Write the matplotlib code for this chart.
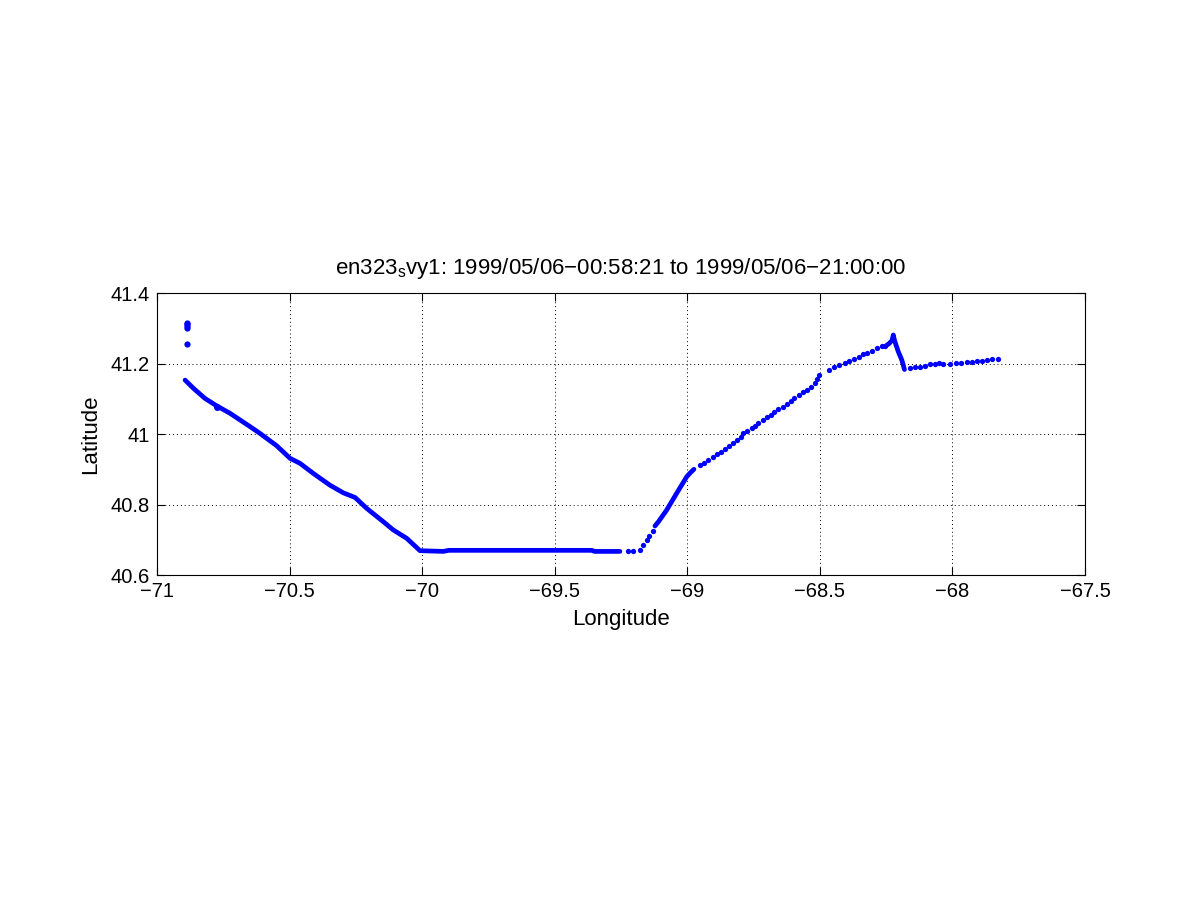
import matplotlib
matplotlib.use("Agg")
import matplotlib.pyplot as plt

plt.rcParams['font.family'] = ['Liberation Sans', 'DejaVu Sans']
plt.rcParams['mathtext.fontset'] = 'custom'
plt.rcParams['mathtext.rm'] = 'Liberation Sans'
plt.rcParams['mathtext.it'] = 'Liberation Sans:italic'

# isolated fixes at the start of the file
outlier_lon = [-70.888, -70.888, -70.888, -70.888, -70.888]
outlier_lat = [41.316, 41.311, 41.306, 41.302, 41.254]

# densely sampled legs (fixes merge into a solid line)
west_lon = [-70.894, -70.863, -70.819, -70.775, -70.725, -70.649, -70.612, -70.549,
            -70.498, -70.461, -70.410, -70.348, -70.297, -70.253, -70.209, -70.146,
            -70.109, -70.058, -70.008, -69.920, -69.900, -69.360, -69.350, -69.254]
west_lat = [41.153, 41.130, 41.101, 41.080, 41.059, 41.021, 41.002, 40.967,
            40.931, 40.917, 40.888, 40.855, 40.833, 40.820, 40.789, 40.751,
            40.728, 40.704, 40.669, 40.667, 40.670, 40.670, 40.667, 40.667]

rise_lon = [-69.122, -69.109, -69.078, -69.040, -69.002, -68.990, -68.975]
rise_lat = [40.739, 40.751, 40.784, 40.832, 40.879, 40.889, 40.900]

peak_lon = [-68.248, -68.240, -68.228, -68.223, -68.220, -68.217, -68.204, -68.191, -68.181]
peak_lat = [41.252, 41.256, 41.265, 41.281, 41.270, 41.262, 41.233, 41.210, 41.183]

# sparsely sampled fixes
fix_lon = [-69.222, -69.204, -69.179, -69.166, -69.153, -69.143, -69.131,
           -68.952, -68.936, -68.921, -68.904, -68.889, -68.874, -68.858, -68.842,
           -68.826, -68.811, -68.798, -68.789, -68.774, -68.757, -68.745, -68.732,
           -68.716, -68.701, -68.686, -68.672, -68.657, -68.640, -68.625, -68.610,
           -68.596, -68.580, -68.565, -68.550, -68.534, -68.518, -68.510, -68.502,
           -68.464, -68.445, -68.426, -68.407, -68.389, -68.371, -68.353, -68.336,
           -68.323, -68.304, -68.286, -68.267, -68.255,
           -68.160, -68.141, -68.122, -68.103, -68.085, -68.066, -68.049, -68.034,
           -68.009, -67.988, -67.969, -67.946, -67.927, -67.908, -67.890, -67.871,
           -67.849, -67.829]
fix_lat = [40.669, 40.669, 40.671, 40.685, 40.699, 40.711, 40.726,
           40.912, 40.919, 40.925, 40.934, 40.942, 40.950, 40.958, 40.966,
           40.974, 40.982, 40.992, 41.002, 41.009, 41.016, 41.024, 41.031,
           41.041, 41.048, 41.055, 41.062, 41.070, 41.078, 41.086, 41.095,
           41.103, 41.110, 41.118, 41.125, 41.134, 41.144, 41.155, 41.166,
           41.183, 41.189, 41.195, 41.202, 41.208, 41.214, 41.219, 41.226,
           41.231, 41.236, 41.243, 41.250, 41.251,
           41.188, 41.190, 41.191, 41.194, 41.198, 41.200, 41.201, 41.199,
           41.199, 41.201, 41.201, 41.203, 41.204, 41.207, 41.208, 41.210,
           41.212, 41.212]

blue = '#0000ff'

fig = plt.figure(figsize=(12, 9.01), dpi=100)
ax = fig.add_axes([0.1308, 0.3618, 0.7734, 0.3130])

for lon, lat in [(west_lon, west_lat), (rise_lon, rise_lat), (peak_lon, peak_lat)]:
    ax.plot(lon, lat, '-', color=blue, lw=3.4, solid_capstyle='round',
            solid_joinstyle='round')
ax.plot(fix_lon, fix_lat, 'o', color=blue, ms=3.8, mew=0)
ax.plot(outlier_lon, outlier_lat, 'o', color=blue, ms=4.5, mew=0)
ax.plot([-70.775], [41.076], 'o', color=blue, ms=5, mew=0)

ax.set_xlim(-71, -67.5)
ax.set_ylim(40.6, 41.4)
ax.set_xticks([-71, -70.5, -70, -69.5, -69, -68.5, -68, -67.5])
ax.set_yticks([40.6, 40.8, 41.0, 41.2, 41.4])
ax.set_yticklabels(['40.6', '40.8', '41', '41.2', '41.4'])
ax.set_xticklabels(['\u221271', '\u221270.5', '\u221270', '\u221269.5', '\u221269',
                    '\u221268.5', '\u221268', '\u221267.5'])
ax.tick_params(direction='in', top=True, right=True, length=6, width=0.8,
               labelsize=14.5, pad=5)
ax.grid(True, color='black', linestyle=(0, (1, 3)), linewidth=0.7)
for s in ax.spines.values():
    s.set_linewidth(0.8)

ax.set_xlabel('Longitude', fontsize=16, labelpad=6)
ax.set_ylabel('Latitude', fontsize=16, labelpad=7)
ax.set_title('en323$_{\\mathrm{s}}$vy1: 1999/05/06\u221200:58:21 to 1999/05/06\u221221:00:00',
             fontsize=16, pad=14)

fig.savefig('out.png', dpi=100)
